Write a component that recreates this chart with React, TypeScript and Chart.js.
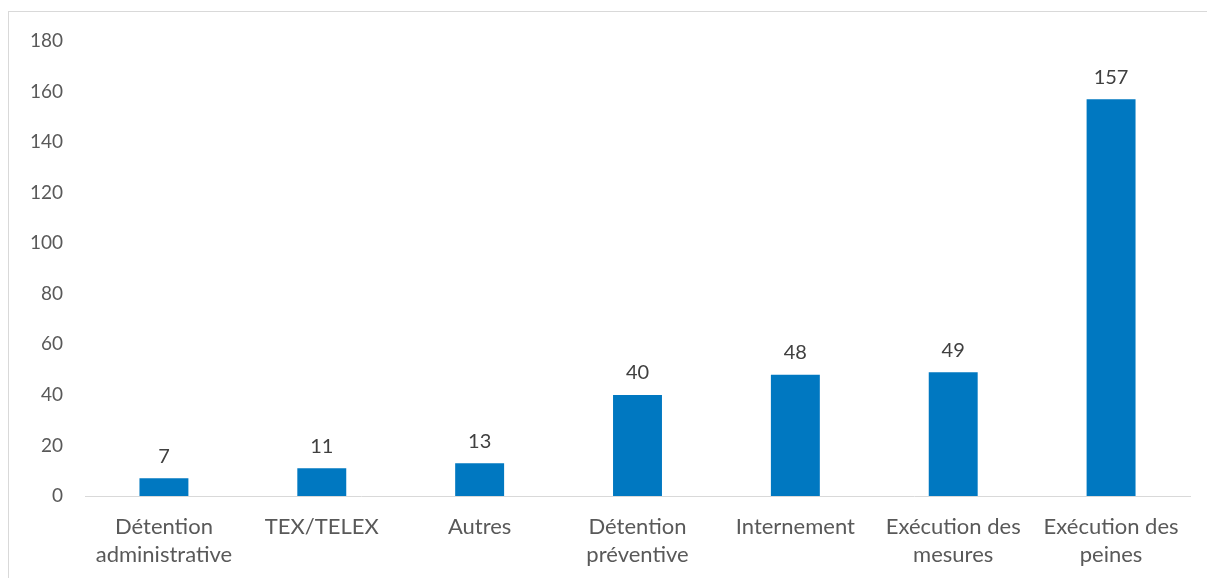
import React, { useEffect, useRef } from "react";
import { Chart, registerables } from "chart.js";

Chart.register(...registerables);

const categories: (string | string[])[] = [
  ["Détention", "administrative"],
  "TEX/TELEX",
  "Autres",
  ["Détention", "préventive"],
  "Internement",
  ["Exécution des", "mesures"],
  ["Exécution des", "peines"],
];
const values: number[] = [7, 11, 13, 40, 48, 49, 157];
const yMin = 0;
const yMax = 180;
const yStep = 20;

const FONT = "Lato, 'Open Sans', sans-serif";

const dataLabels = {
  id: "dataLabels",
  afterDatasetsDraw(chart: any) {
    const ctx = chart.ctx;
    const meta = chart.getDatasetMeta(0);
    ctx.save();
    ctx.fillStyle = "#404040";
    ctx.font = `20px ${FONT}`;
    ctx.textAlign = "center";
    ctx.textBaseline = "middle";
    meta.data.forEach((bar: any, i: number) => {
      ctx.fillText(String(values[i]), bar.x, bar.y - 22);
    });
    ctx.restore();
  },
};

export default function App() {
  const ref = useRef<HTMLCanvasElement>(null);
  useEffect(() => {
    if (!ref.current) return;
    const chart = new Chart(ref.current, {
      type: "bar",
      data: {
        labels: categories,
        datasets: [
          {
            data: values,
            backgroundColor: "#0078c1",
            barPercentage: 0.31,
            categoryPercentage: 1,
          },
        ],
      },
      options: {
        animation: false,
        responsive: false,
        maintainAspectRatio: false,
        layout: { padding: { top: 29, right: 17, left: 0, bottom: 0 } },
        plugins: { legend: { display: false }, tooltip: { enabled: false } },
        scales: {
          x: {
            grid: { display: false, drawTicks: false },
            border: { display: true, color: "#d9d9d9", width: 1 },
            ticks: {
              color: "#595959",
              font: { family: FONT, size: 22, lineHeight: 1.28 },
              padding: 17,
              maxRotation: 0,
              autoSkip: false,
            },
            afterFit(scale: any) {
              scale.height = 82;
            },
          },
          y: {
            min: yMin,
            max: yMax,
            grid: { display: false, drawTicks: false },
            border: { display: false },
            ticks: {
              stepSize: yStep,
              color: "#595959",
              font: { family: FONT, size: 19 },
              padding: 22,
            },
            afterFit(scale: any) {
              scale.width = 76;
              scale.paddingTop = 0;
              scale.paddingBottom = 0;
            },
          },
        },
      },
      plugins: [dataLabels],
    });
    return () => chart.destroy();
  }, []);
  return (
    <div
      style={{
        position: "absolute",
        left: 8,
        top: 11,
        width: 1199,
        height: 567,
        borderLeft: "1px solid #d9d9d9",
        borderTop: "1px solid #d9d9d9",
        background: "#fff",
      }}
    >
      <canvas ref={ref} width={1198} height={566} style={{ display: "block" }} />
    </div>
  );
}
